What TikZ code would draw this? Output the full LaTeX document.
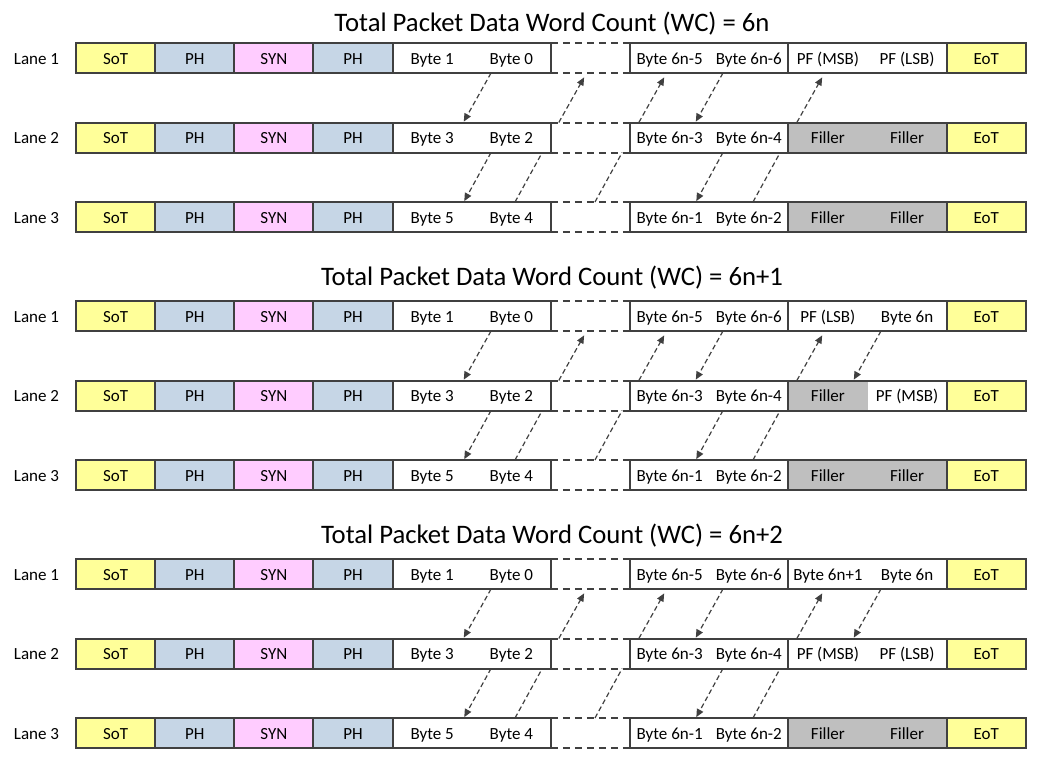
\documentclass[tikz,border=0pt]{standalone}
\usepackage{fontspec}
\setmainfont{Carlito}
\usetikzlibrary{arrows.meta}
\definecolor{cyel}{HTML}{FFFF99}
\definecolor{cph}{HTML}{C6D6E6}
\definecolor{csyn}{HTML}{FFCCFF}
\definecolor{cfill}{HTML}{BFBFBF}
\definecolor{cline}{HTML}{404040}
\newcommand\lanerow[7]{%
 \node[lane] (lab#1) at (36.5,#2) {#3};
 \node[cell,box,fill=cyel] (c#1-1) at (115.575,#2) {SoT};
 \node[cell,box,fill=cph] (c#1-2) at (194.725,#2) {PH};
 \node[cell,box,fill=csyn] (c#1-3) at (273.875,#2) {SYN};
 \node[cell,box,fill=cph] (c#1-4) at (353.025,#2) {PH};
 \node[cell,fill=white] (c#1-5) at (432.175,#2) {#4};
 \node[cell,fill=white] (c#1-6) at (511.325,#2) {#5};
 \draw[box] (c#1-5.north west) rectangle (c#1-6.south east);
 \node[cell] (c#1-7) at (590.475,#2) {};
 \draw[gapline] (c#1-7.north west) -- (c#1-7.north east);
 \draw[gapline] (c#1-7.south west) -- (c#1-7.south east);
 \node[cell,fill=white] (c#1-8) at (669.625,#2) {#6};
 \node[cell,fill=white] (c#1-9) at (748.775,#2) {#7};
 \draw[box] (c#1-8.north west) rectangle (c#1-9.south east);
 \node[cell,box,fill=cyel] (c#1-12) at (986.225,#2) {EoT};
}
\newcommand\pfpair[6]{%
 \node[cell,fill=#4] (c#1-10) at (827.925,#2) {#3};
 \node[cell,fill=#6] (c#1-11) at (907.075,#2) {#5};
 \draw[box] (c#1-10.north west) rectangle (c#1-11.south east);
}
\newcommand\conns[1]{%
 % A, B: down arrows in the first byte pair
 \draw[arr] ([xshift=-20.3pt]c#1-1-6.south) -- ([xshift=31.1pt]c#1-2-5.north);
 \draw[arr] ([xshift=-20.3pt]c#1-2-6.south) -- ([xshift=31.6pt]c#1-3-5.north);
 % C: Byte 4 up to the lane 1 gap
 \draw[conn] ([xshift=3.7pt]c#1-3-6.north) -- ([xshift=30.9pt]c#1-2-6.south);
 \draw[arr,shorten >=5pt] ([xshift=-31.7pt]c#1-2-7.north) -- ([xshift=-3.9pt]c#1-1-7.south);
 % D: lane 3 gap up to Byte 6n-5
 \draw[conn] ([xshift=4.5pt]c#1-3-7.north) -- ([xshift=31.7pt]c#1-2-7.south);
 \draw[arr,shorten >=5pt] ([xshift=-30.8pt]c#1-2-8.north) -- ([xshift=-3.0pt]c#1-1-8.south);
 % E, F: down arrows in the second byte pair
 \draw[arr] ([xshift=-25.8pt]c#1-1-9.south) -- ([xshift=25.7pt]c#1-2-8.north);
 \draw[arr] ([xshift=-25.8pt]c#1-2-9.south) -- ([xshift=26.2pt]c#1-3-8.north);
 % G: Byte 6n-2 up to lane 1 third pair
 \draw[conn] ([xshift=4.2pt]c#1-3-9.north) -- ([xshift=31.4pt]c#1-2-9.south);
 \draw[arr,shorten >=5pt] ([xshift=-31.1pt]c#1-2-10.north) -- ([xshift=-3.3pt]c#1-1-10.south);
}
\begin{document}
\begin{tikzpicture}[x=1pt,y=-1pt,
  cell/.style={minimum width=79.15pt,minimum height=30pt,inner sep=0pt,outer sep=0pt,
    text height=12pt,text depth=0pt,font=\fontsize{17}{20}\selectfont,text=black},
  box/.style={draw=cline,line width=2pt},
  gapline/.style={draw=cline,line width=2pt,dash pattern=on 7pt off 5pt},
  conn/.style={draw=cline,line width=1.2pt,dash pattern=on 5pt off 3pt},
  arr/.style={conn,shorten >=1pt,-{Triangle[length=8pt,width=7pt]}},
  ttl/.style={font=\fontsize{26.7}{30}\selectfont,text=black},
  lane/.style={text height=12pt,text depth=0pt,font=\fontsize{17}{20}\selectfont,text=black}
]
\useasboundingbox (0,0) rectangle (1053,761);
% ---------- section 1 ----------
\node[ttl] (t1) at (552,24) {Total Packet Data Word Count (WC) = 6n};
\lanerow{1-1}{58}{Lane 1}{Byte 1}{Byte 0}{Byte 6n-5}{Byte 6n-6}
\pfpair{1-1}{58}{PF (MSB)}{white}{PF (LSB)}{white}
\lanerow{1-2}{137.5}{Lane 2}{Byte 3}{Byte 2}{Byte 6n-3}{Byte 6n-4}
\pfpair{1-2}{137.5}{Filler}{cfill}{Filler}{cfill}
\lanerow{1-3}{217}{Lane 3}{Byte 5}{Byte 4}{Byte 6n-1}{Byte 6n-2}
\pfpair{1-3}{217}{Filler}{cfill}{Filler}{cfill}
\conns{1}
% ---------- section 2 ----------
\node[ttl] (t2) at (552,278) {Total Packet Data Word Count (WC) = 6n+1};
\lanerow{2-1}{316}{Lane 1}{Byte 1}{Byte 0}{Byte 6n-5}{Byte 6n-6}
\pfpair{2-1}{316}{PF (LSB)}{white}{Byte 6n}{white}
\lanerow{2-2}{395.5}{Lane 2}{Byte 3}{Byte 2}{Byte 6n-3}{Byte 6n-4}
\pfpair{2-2}{395.5}{Filler}{cfill}{PF (MSB)}{white}
\lanerow{2-3}{475}{Lane 3}{Byte 5}{Byte 4}{Byte 6n-1}{Byte 6n-2}
\pfpair{2-3}{475}{Filler}{cfill}{Filler}{cfill}
\conns{2}
\draw[arr] ([xshift=-26.1pt]c2-1-11.south) -- ([xshift=25.4pt]c2-2-10.north);
% ---------- section 3 ----------
\node[ttl] (t3) at (552,536) {Total Packet Data Word Count (WC) = 6n+2};
\lanerow{3-1}{574}{Lane 1}{Byte 1}{Byte 0}{Byte 6n-5}{Byte 6n-6}
\pfpair{3-1}{574}{Byte 6n+1}{white}{Byte 6n}{white}
\lanerow{3-2}{653.5}{Lane 2}{Byte 3}{Byte 2}{Byte 6n-3}{Byte 6n-4}
\pfpair{3-2}{653.5}{PF (MSB)}{white}{PF (LSB)}{white}
\lanerow{3-3}{733}{Lane 3}{Byte 5}{Byte 4}{Byte 6n-1}{Byte 6n-2}
\pfpair{3-3}{733}{Filler}{cfill}{Filler}{cfill}
\conns{3}
\draw[arr] ([xshift=-26.1pt]c3-1-11.south) -- ([xshift=25.4pt]c3-2-10.north);
\end{tikzpicture}
\end{document}
